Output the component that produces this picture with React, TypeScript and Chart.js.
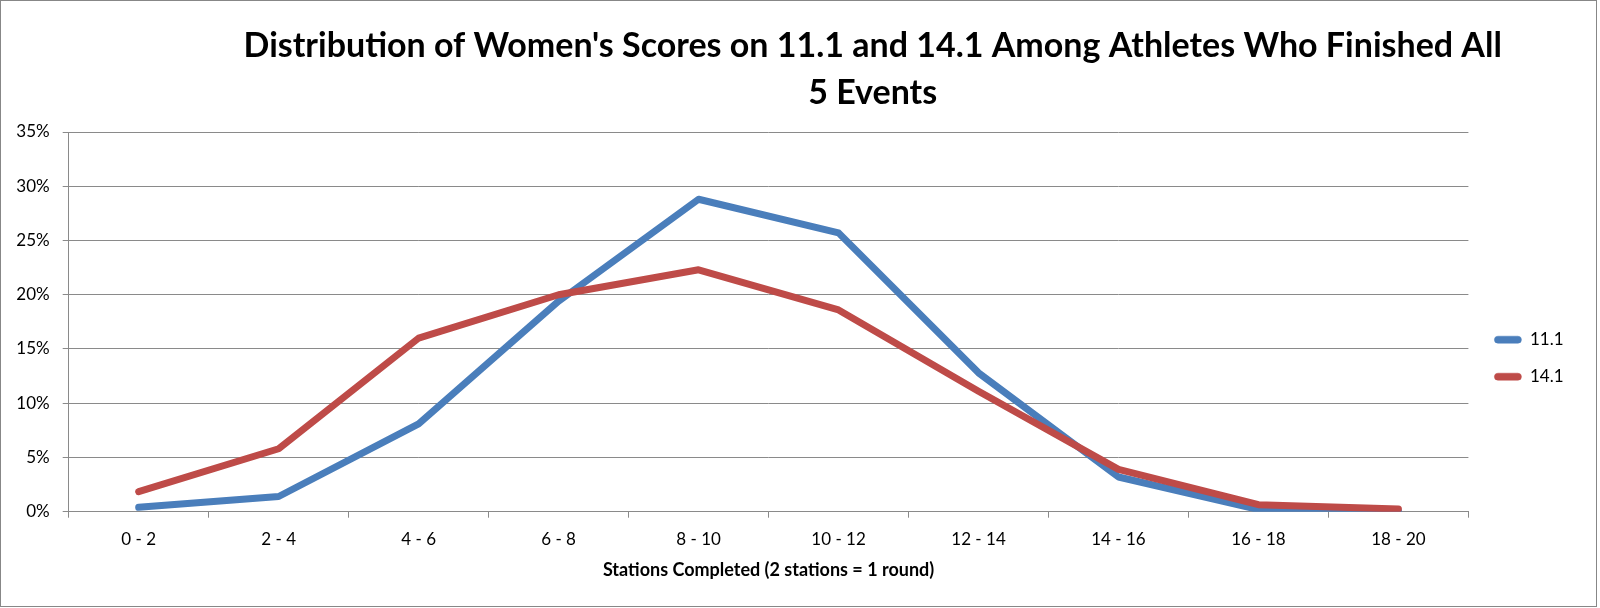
import React, { useEffect, useRef } from "react";
import { Chart, registerables } from "chart.js";

Chart.register(...registerables);

// ---------- data ----------
const categories = ["0 - 2", "2 - 4", "4 - 6", "6 - 8", "8 - 10", "10 - 12", "12 - 14", "14 - 16", "16 - 18", "18 - 20"];
const series111 = [0.4, 1.4, 8.1, 19.4, 28.8, 25.7, 12.8, 3.2, 0.2, 0.05];
const series141 = [1.85, 5.8, 16.0, 20.0, 22.3, 18.6, 11.1, 3.9, 0.65, 0.25];
const seriesNames = ["11.1", "14.1"];
const yTickValues = [0, 5, 10, 15, 20, 25, 30, 35];
const titleLines = [
  "Distribution of Women's Scores on 11.1 and 14.1 Among Athletes Who Finished All",
  "5 Events",
];
const xAxisTitle = "Stations Completed (2 stations = 1 round)";

// ---------- styles ----------
const BLUE = "#4A7EBB";
const RED = "#BE4B48";
const GRID = "#8a8a8a";
const FONT = "Lato";
const CW = 1595;
const CH = 605;

export default function App() {
  const ref = useRef<HTMLCanvasElement | null>(null);

  useEffect(() => {
    const canvas = ref.current;
    if (!canvas) return;

    const m = document.createElement("canvas").getContext("2d")!;
    m.font = `bold 100px ${FONT}`;
    const w100 = m.measureText(titleLines[0]).width;
    const titleSize = Math.min(34, (1260 * 100) / w100);

    const shiftPlugin = {
      id: "shiftBlocks",
      afterLayout(chart: any) {
        const tb = chart.titleBlock;
        if (tb) {
          const c = (tb.left + tb.right) / 2;
          const d = 871.7 - c;
          tb.left += d;
          tb.right += d;
        }
        const lg = chart.legend;
        if (lg) {
          lg.left += 6;
          lg.right += 6;
          lg.top += 54.7;
          lg.bottom += 54.7;
        }
      },
    };

    const chart = new Chart(canvas, {
      type: "line",
      data: {
        labels: categories,
        datasets: [
          {
            label: seriesNames[0],
            data: series111,
            borderColor: BLUE,
            backgroundColor: BLUE,
            borderWidth: 7,
            pointRadius: 0,
            pointHoverRadius: 0,
            tension: 0,
            borderCapStyle: "round",
            borderJoinStyle: "round",
            fill: false,
            order: 1,
          },
          {
            label: seriesNames[1],
            data: series141,
            borderColor: RED,
            backgroundColor: RED,
            borderWidth: 7,
            pointRadius: 0,
            pointHoverRadius: 0,
            tension: 0,
            borderCapStyle: "round",
            borderJoinStyle: "round",
            fill: false,
            order: 0,
          },
        ],
      },
      options: {
        responsive: false,
        animation: false,
        events: [],
        layout: { padding: { left: 0, right: 28.5, top: 0, bottom: 0 } },
        plugins: {
          title: {
            display: true,
            text: titleLines,
            color: "#000",
            font: { family: FONT, weight: "bold", size: titleSize, lineHeight: 47 / titleSize },
            padding: { top: 22, bottom: 15 },
          },
          legend: {
            position: "right",
            labels: {
              color: "#000",
              font: { family: FONT, size: 17 },
              boxWidth: 27,
              boxHeight: 7,
              padding: 20,
              useBorderRadius: true,
              borderRadius: 3.5,
              generateLabels: (ch: any) =>
                ch.data.datasets.map((ds: any, i: number) => ({
                  text: ds.label,
                  fillStyle: ds.borderColor,
                  strokeStyle: ds.borderColor,
                  lineWidth: 0.5,
                  hidden: false,
                  datasetIndex: i,
                  borderRadius: 3.5,
                  fontColor: "#000",
                })),
            },
          },
          tooltip: { enabled: false },
        },
        scales: {
          x: {
            type: "category",
            offset: true,
            grid: {
              display: true,
              drawOnChartArea: false,
              drawTicks: true,
              tickLength: 6,
              offset: true,
              color: GRID,
            },
            border: { display: true, color: GRID, width: 1 },
            ticks: {
              color: "#000",
              font: { family: FONT, size: 17 },
              padding: 12,
              maxRotation: 0,
              autoSkip: false,
            },
            title: {
              display: true,
              text: xAxisTitle,
              color: "#000",
              font: { family: FONT, weight: "bold", size: 18 },
              padding: { top: 0, bottom: 25 },
            },
            afterFit: (s: any) => {
              s.height = 94.3;
            },
          },
          y: {
            min: 0,
            max: 35,
            afterBuildTicks: (s: any) => {
              s.ticks = yTickValues.map((v) => ({ value: v }));
            },
            ticks: {
              color: "#000",
              font: { family: FONT, size: 17 },
              padding: 13,
              callback: (v: any) => `${v}%`,
            },
            grid: { color: GRID, tickLength: 6, lineWidth: 1 },
            border: { display: true, color: GRID, width: 1 },
            afterFit: (s: any) => {
              s.width = 67.7;
            },
          },
        },
      },
      plugins: [shiftPlugin],
    } as any);

    return () => chart.destroy();
  }, []);

  return (
    <div
      style={{
        position: "absolute",
        left: 0,
        top: 0,
        width: 1597,
        height: 607,
        border: "1px solid #878787",
        boxSizing: "border-box",
        background: "#fff",
      }}
    >
      <canvas ref={ref} width={CW} height={CH} style={{ display: "block", width: CW, height: CH }} />
    </div>
  );
}
